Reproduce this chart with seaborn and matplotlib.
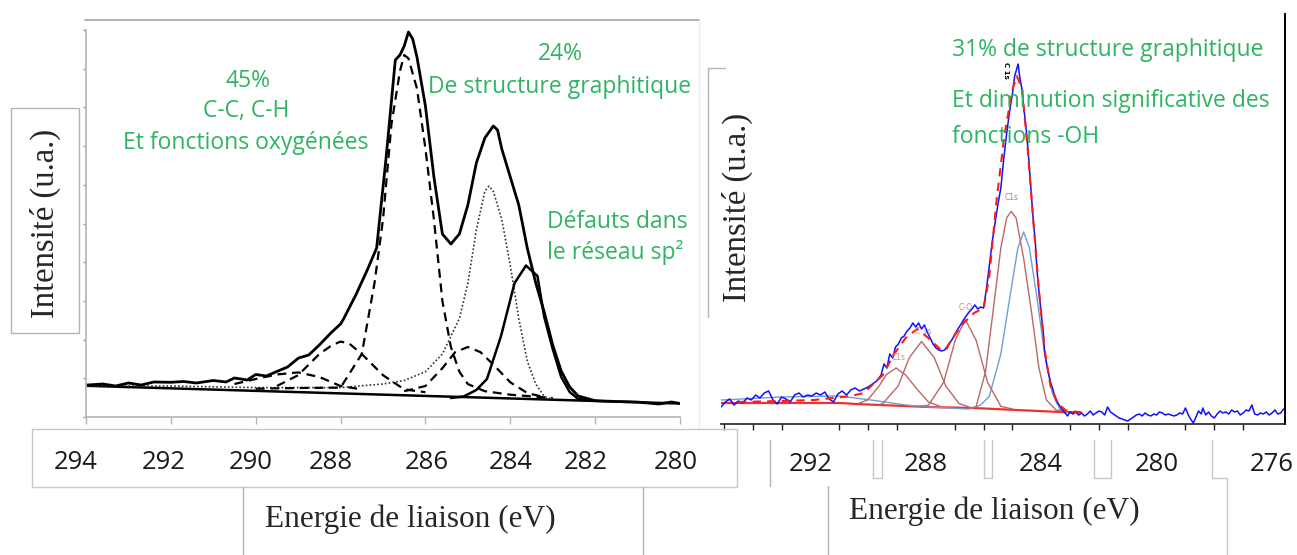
import numpy as np
import pandas as pd
import matplotlib
matplotlib.use("Agg")
import matplotlib.pyplot as plt
from matplotlib.lines import Line2D
from matplotlib.ticker import MultipleLocator
import seaborn as sns

# ---------------- données (énergie en eV, intensité en u.a.) ----------------
# spectre de gauche
env_g_e = [294.0, 293.6, 293.3, 293.0, 292.7, 292.4, 292.0, 291.7, 291.4, 291.0, 290.7, 290.5, 290.2,
           290.0, 289.75, 289.53, 289.25, 288.99, 288.75, 288.5, 288.23, 288.0, 287.93, 287.63, 287.36,
           287.15, 286.93, 286.71, 286.6, 286.5, 286.4, 286.3, 286.2, 286.0, 285.8, 285.6, 285.4, 285.2,
           285.0, 284.8, 284.6, 284.4, 284.3, 284.2, 284.0, 283.8, 283.6, 283.4, 283.2, 283.0, 282.8,
           282.6, 282.4, 282.0, 281.5, 281.0, 280.5, 280.2, 280.0]
env_g_i = [31.9, 33, 31, 34, 32, 35, 34.7, 35.5, 34, 36.5, 35, 39, 37,
           42.5, 41, 45, 50, 59, 62, 72, 84, 93, 98, 123, 148,
           169, 258, 357, 362, 371, 385, 378, 360, 311, 240, 183, 173, 183,
           212, 254, 279, 291, 287, 268, 240, 212, 169, 134, 105, 72, 46,
           30, 21, 16.3, 15.5, 14.9, 13, 15, 13.5]

base_g_e = [294.0, 280.0]
base_g_i = [31.2, 13.5]

pic1_g_e = [290.0, 289.0, 288.0, 287.5, 287.2, 287.0, 286.8, 286.6, 286.5, 286.4, 286.2, 286.0, 285.8,
            285.6, 285.4, 285.2, 285.0, 284.6, 284.0, 283.0]
pic1_g_i = [28.3, 29, 29.4, 63, 134, 197.5, 293, 346, 362, 358.6, 328.5, 268.3, 197.5,
            116, 70, 45.3, 32.9, 25.8, 22.3, 19]

pic2_g_e = [289.5, 289.0, 288.5, 288.2, 288.0, 287.8, 287.5, 287.0, 286.5, 286.0]
pic2_g_i = [31, 41.8, 63, 71.9, 75.4, 73.6, 63, 41.8, 27.6, 24.8]

pic3_g_e = [290.5, 290.0, 289.5, 289.0, 288.5, 288.0, 287.5]
pic3_g_i = [33, 38, 42.5, 44.6, 40, 31, 27.6]

pic4_g_e = [286.5, 286.0, 285.6, 285.3, 285.0, 284.7, 284.4, 284.0, 283.6, 283.2]
pic4_g_i = [25.8, 31, 48.8, 64.8, 70, 64.8, 52.4, 34.7, 24, 19.8]

graph_g_e = [294.0, 292.0, 290.0, 288.0, 287.0, 286.5, 286.0, 285.6, 285.2, 285.0, 284.8, 284.6,
             284.5, 284.4, 284.2, 284.0, 283.8, 283.6, 283.4, 283.2, 283.0]
graph_g_i = [31, 31, 29.4, 29.4, 33, 36.5, 45.3, 63, 98.4, 133.8, 187, 225.8,
             231, 225.8, 197.5, 151.5, 98.4, 56, 32.9, 20.5, 17.7]

defaut_g_e = [285.4, 285.1, 284.8, 284.55, 284.22, 283.9, 283.63, 283.36, 283.2, 283.0, 282.8,
              282.6, 282.4, 282.0]
defaut_g_i = [19, 20.5, 27, 38, 80.7, 133.8, 151.5, 141, 100, 68, 40, 25, 18, 16.3]

# spectre de droite
brut_d_e = [295.10, 294.95, 294.80, 294.65, 294.50, 294.35, 294.20, 294.05, 293.90, 293.75, 293.60,
            293.45, 293.30, 293.15, 293.00, 292.85, 292.70, 292.55, 292.40, 292.25, 292.10, 291.95,
            291.80, 291.65, 291.50, 291.35, 291.20, 291.05, 290.90, 290.75, 290.60, 290.45, 290.30,
            290.15, 290.00, 289.85, 289.70, 289.55, 289.45, 289.35, 289.25, 289.15, 289.05, 288.95,
            288.85, 288.75, 288.65, 288.55, 288.45, 288.35, 288.25, 288.15, 288.05, 287.95, 287.85,
            287.75, 287.65, 287.55, 287.45, 287.35, 287.25, 287.10, 286.95, 286.80, 286.65, 286.50,
            286.40, 286.30, 286.20, 286.10, 286.00, 285.90, 285.80, 285.70, 285.60, 285.50, 285.40,
            285.30, 285.20, 285.10, 285.00, 284.92, 284.85, 284.80, 284.75, 284.67, 284.60, 284.54,
            284.45, 284.38, 284.28, 284.20, 284.15, 284.08, 284.01, 283.93, 283.88, 283.80, 283.68,
            283.58, 283.49, 283.40, 283.29, 283.20, 283.09, 283.00, 282.90, 282.80, 282.70, 282.60,
            282.50, 282.40, 282.30, 282.20, 282.10, 282.00, 281.90, 281.80, 281.70, 281.60, 281.50,
            281.40, 281.30, 281.20, 281.10, 281.00, 280.90, 280.80, 280.70, 280.60, 280.50, 280.40,
            280.30, 280.20, 280.10, 280.00, 279.90, 279.80, 279.70, 279.60, 279.50, 279.40, 279.30,
            279.20, 279.10, 279.00, 278.90, 278.80, 278.73, 278.65, 278.55, 278.45, 278.40, 278.30,
            278.20, 278.10, 278.00, 277.90, 277.80, 277.70, 277.60, 277.50, 277.40, 277.30, 277.20,
            277.10, 277.00, 276.90, 276.80, 276.70, 276.60, 276.50, 276.40, 276.30, 276.20, 276.10,
            276.00, 275.90, 275.80, 275.70, 275.60]
brut_d_i = [17, 22, 25, 19, 23, 21, 26, 24, 29, 26, 31,
            33, 24, 20, 27, 25, 22, 29, 31, 27, 29, 28,
            31, 29, 32, 25, 22, 30, 33, 29, 34, 36, 33,
            35, 37, 40, 43, 49, 60, 56, 70, 66, 77, 80,
            86, 88, 93, 96, 101, 97, 101, 95, 99, 92, 86,
            80, 76, 74, 73, 74, 78, 84, 92, 99, 106, 112,
            115, 119, 115, 117, 116, 135, 158, 182, 201, 220, 236,
            265, 290, 312, 330, 348, 355, 360, 348, 335, 315, 300,
            272, 245, 205, 180, 155, 133, 113, 92, 71, 58, 42,
            33, 24, 20, 15, 12, 8, 12, 10, 12, 9, 11,
            8, 10, 13, 9, 11, 13, 12, 9, 17, 12, 10,
            8, 6, 5, 4, 3, 5, 7, 9, 10, 8, 11,
            9, 8, 10, 9, 12, 11, 9, 10, 9, 8, 9,
            11, 10, 16, 9, 4, 1, 6, 13, 10, 16, 9,
            12, 8, 6, 10, 13, 11, 12, 10, 14, 12, 13,
            9, 11, 14, 13, 19, 10, 9, 11, 10, 12, 9,
            11, 14, 10, 11, 15]

fit_d_e = [294.51, 293.0, 291.87, 290.6, 290.15, 289.49, 289.10, 288.70, 288.30, 287.91, 287.51,
           287.3, 287.12, 286.72, 286.33, 285.99, 285.80, 285.54, 285.27, 285.00, 284.85, 284.67,
           284.47, 284.28, 284.08, 283.88, 283.68, 283.42, 283.15, 282.63]
fit_d_i = [22, 23, 24, 28, 31, 49, 70, 86, 95, 86, 75,
           74, 84, 100, 111, 116, 148, 226, 290, 334, 348, 336,
           275, 205, 134, 74, 38, 20.5, 13.5, 11.7]

fond_d_e = [295.10, 290.98, 290.42, 287.91, 286.36, 283.35, 282.63]
fond_d_i = [21, 21, 20, 17, 16, 12, 11.7]

c1_d_e = [290.3, 290.02, 289.62, 289.36, 289.03, 288.70, 288.30, 287.91, 287.51]
c1_d_i = [21, 24, 38, 49.6, 56, 49, 34.7, 22, 17.7]

c2_d_e = [289.6, 289.49, 288.96, 288.57, 288.15, 287.71, 287.31, 286.85, 286.5]
c2_d_i = [19.5, 20.5, 38, 66.5, 82.5, 66.5, 38, 20.5, 17]

c3_d_e = [288.2, 287.91, 287.38, 286.98, 286.63, 286.26, 285.86, 285.40, 285.0]
c3_d_i = [17.5, 18.8, 41.8, 84, 104.4, 84, 41.8, 17.7, 15]

c4_d_e = [286.6, 286.26, 285.93, 285.67, 285.40, 285.20, 285.04, 284.87, 284.61, 284.34, 284.08,
          283.82, 283.49, 283.1]
c4_d_i = [15.5, 17, 52.4, 112.6, 176, 206, 212.7, 206, 165.7, 112.6, 56,
          24, 14, 12.5]

c5_d_e = [295.10, 293.0, 291.0, 289.9, 288.7, 287.9, 286.5, 286.1, 285.80, 285.40, 285.07, 284.81,
          284.61, 284.41, 284.15, 283.88, 283.62, 283.36, 283.09]
c5_d_i = [24, 27, 28, 24, 19, 17, 15, 19, 27.6, 70, 130, 176,
          192, 176, 126.7, 70, 31, 15.2, 11.7]

ticks_g = [294, 292, 290, 288, 286, 284, 282, 280]
ticks_d = [292, 288, 284, 280, 276]

# position (eV) des étiquettes de gauche, placées à la main sur l'original
pos_etiq_g = [294.24, 292.16, 290.11, 288.23, 285.96, 284.0, 282.21, 280.09]

# ---------------- mise en page ----------------
W, H = 1297, 555
sns.set_style("white")
plt.rcParams["font.family"] = ["Open Sans", "DejaVu Sans"]
VERT = "#2eb462"
GRIS = "#b4b4b4"
BRUN = "#b86a66"

fig = plt.figure(figsize=(W / 100, H / 100), dpi=100)


def fx(x):
    return x / W


def fy(y):
    return 1 - y / H


def trait(xs, ys, color=GRIS, lw=1.0):
    fig.add_artist(Line2D([fx(x) for x in xs], [fy(y) for y in ys],
                          transform=fig.transFigure, color=color, lw=lw))


def courbe(ax, e, i, **kw):
    df = pd.DataFrame({"E": e, "I": i})
    sns.lineplot(data=df, x="E", y="I", ax=ax, estimator=None, sort=False, **kw)


# ---- cadre gauche
ax1 = fig.add_axes([fx(86), fy(417), fx(680) - fx(86), fy(30) - fy(417)])
ax1.set_xlim(294, 280)
ax1.set_ylim(0, 387)

courbe(ax1, base_g_e, base_g_i, color="black", linewidth=1.8)
courbe(ax1, graph_g_e, graph_g_i, color="#333333", linewidth=1.2, linestyle=(0, (1, 1.3)))
courbe(ax1, pic1_g_e, pic1_g_i, color="black", linewidth=1.6, linestyle=(0, (4, 2.6)))
courbe(ax1, pic2_g_e, pic2_g_i, color="black", linewidth=1.6, linestyle=(0, (4, 2.6)))
courbe(ax1, pic3_g_e, pic3_g_i, color="black", linewidth=1.6, linestyle=(0, (4, 2.6)))
courbe(ax1, pic4_g_e, pic4_g_i, color="black", linewidth=1.6, linestyle=(0, (4, 2.6)))
courbe(ax1, defaut_g_e, defaut_g_i, color="black", linewidth=1.8)
courbe(ax1, env_g_e, env_g_i, color="black", linewidth=2.0)

for s in ["top", "right"]:
    ax1.spines[s].set_visible(False)
for s in ["left", "bottom"]:
    ax1.spines[s].set_color(GRIS)
    ax1.spines[s].set_linewidth(1.2)
ax1.set_xticks(ticks_g)
ax1.set_xticklabels([])
ax1.tick_params(axis="x", length=5, width=1, color=GRIS, direction="out", bottom=True)
# étiquettes de gauche : zones de texte posées à la main, un peu décalées des graduations
for p, t in zip(pos_etiq_g, ticks_g):
    ax1.text(p, -0.085, str(t), transform=ax1.get_xaxis_transform(), fontsize=18.5,
             color="#1a1a1a", ha="center", va="top", clip_on=False)
ax1.yaxis.set_major_locator(MultipleLocator(38.7))
ax1.tick_params(axis="y", length=2, width=1, color="#999999", labelleft=False, left=True)
ax1.set_xlabel("")
ax1.set_ylabel("")
ax1.patch.set_alpha(0)

# ---- cadre droit
ax2 = fig.add_axes([fx(721), fy(424), fx(1285) - fx(721), fy(14) - fy(424)])
ax2.set_xlim(295.10, 275.55)
ax2.set_ylim(0, 410)

courbe(ax2, fond_d_e, fond_d_i, color="#f03030", linewidth=1.6)
courbe(ax2, c5_d_e, c5_d_i, color="#6e9fd2", linewidth=1.0)
for ce, ci in [(c1_d_e, c1_d_i), (c2_d_e, c2_d_i), (c3_d_e, c3_d_i), (c4_d_e, c4_d_i)]:
    courbe(ax2, ce, ci, color=BRUN, linewidth=1.0)
courbe(ax2, brut_d_e, brut_d_i, color="#1010ff", linewidth=1.1)
courbe(ax2, fit_d_e, fit_d_i, color="#ff1a1a", linewidth=1.5, linestyle=(0, (4, 3)))

for s in ["top", "left"]:
    ax2.spines[s].set_visible(False)
ax2.spines["right"].set_color("black")
ax2.spines["right"].set_linewidth(1.4)
ax2.spines["bottom"].set_color("#222222")
ax2.spines["bottom"].set_linewidth(1.2)
ax2.set_xticks(ticks_d)
ax2.set_xticklabels([str(t) for t in ticks_d], fontsize=18.5, color="#1a1a1a")
ax2.xaxis.set_minor_locator(MultipleLocator(1))
ax2.tick_params(axis="x", which="major", length=7, width=1, color="#222222", pad=13)
ax2.tick_params(axis="x", which="minor", length=4, width=1, color="#222222", bottom=True)
ax2.set_yticks([])
ax2.set_xlabel("")
ax2.set_ylabel("")
ax2.patch.set_alpha(0)

# petites étiquettes du logiciel d'ajustement
ax2.text(285.22, 354, "C 1s", fontsize=5, rotation=-90, color="black", ha="center", va="center",
         family="DejaVu Sans", fontweight="bold")
ax2.text(285.02, 222, "C1s", fontsize=5.5, color="#c8765e", ha="center", va="bottom", family="DejaVu Sans")
ax2.text(286.62, 112, "C-O", fontsize=5.5, color="#d08a6a", ha="center", va="bottom", family="DejaVu Sans")
ax2.text(288.1, 88, "C 1s", fontsize=5.5, color="#d08a6a", ha="center", va="bottom", family="DejaVu Sans")
ax2.text(288.95, 62, "C1s", fontsize=5.5, color="#d08a6a", ha="center", va="bottom", family="DejaVu Sans")

# ---- cadres gris des zones de texte
trait([85, 699], [19.5, 19.5], color="#aaaaaa", lw=1.3)
trait([699, 699], [19.5, 428], color="#eeeeee", lw=1.0)
trait([11, 79, 79, 11, 11], [108, 108, 333, 333, 108])
trait([32, 737, 737, 32, 32], [429, 429, 487, 487, 429], color="#c8c8c8")
trait([243, 243], [487, 555])
trait([643, 643], [487, 555])
trait([725, 708, 708], [68, 68, 317])
trait([770, 770], [440, 486])
for a, b in [(873, 882), (984, 992), (1094, 1111)]:
    trait([a, a, b, b], [440, 478, 478, 440], color="#c8c8c8")
trait([1212, 1212, 1227, 1227], [440, 478, 478, 555], color="#c8c8c8")
trait([828, 828], [486, 555])

# ---- titres d'axes
serif = ["Liberation Serif", "DejaVu Serif"]
fig.text(fx(410), fy(527), "Energie de liaison (eV)", fontsize=22.5, family=serif, ha="center", va="baseline")
fig.text(fx(994), fy(519), "Energie de liaison (eV)", fontsize=22.5, family=serif, ha="center", va="baseline")
fig.text(fx(45), fy(223), "Intensité (u.a.)", fontsize=23.5, family=serif, rotation=90, ha="center", va="center")
fig.text(fx(737), fy(207), "Intensité (u.a.)", fontsize=23.5, family=serif, rotation=90, ha="center", va="center")

# ---- commentaires en vert
fs = 16.5
fig.text(fx(248), fy(87), "45%", color=VERT, fontsize=fs, ha="center", va="baseline")
fig.text(fx(246), fy(117), "C-C, C-H", color=VERT, fontsize=fs, ha="center", va="baseline")
fig.text(fx(246), fy(149), "Et fonctions oxygénées", color=VERT, fontsize=fs, ha="center", va="baseline")
fig.text(fx(560), fy(60), "24%", color=VERT, fontsize=fs, ha="center", va="baseline")
fig.text(fx(560), fy(93), "De structure graphitique", color=VERT, fontsize=fs, ha="center", va="baseline")
fig.text(fx(547), fy(228), "Défauts dans", color=VERT, fontsize=fs, ha="left", va="baseline")
fig.text(fx(547), fy(259), "le réseau sp²", color=VERT, fontsize=fs, ha="left", va="baseline")
fig.text(fx(952), fy(56), "31% de structure graphitique", color=VERT, fontsize=fs, ha="left", va="baseline")
fig.text(fx(952), fy(107), "Et diminution significative des", color=VERT, fontsize=fs, ha="left", va="baseline")
fig.text(fx(952), fy(143), "fonctions -OH", color=VERT, fontsize=fs, ha="left", va="baseline")

fig.savefig("out.png", dpi=100, facecolor="white")
